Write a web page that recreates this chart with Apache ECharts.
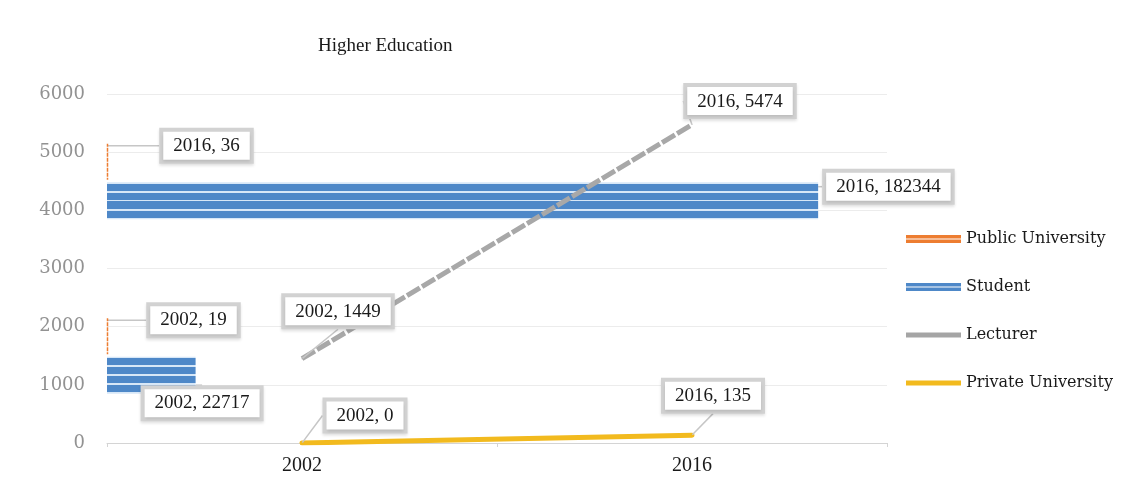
<!DOCTYPE html>
<html>
<head>
<meta charset="utf-8">
<script src="https://cdn.jsdelivr.net/npm/echarts@6/dist/echarts.min.js"></script>
<style>
  html, body { margin: 0; padding: 0; background: #ffffff; }
  #chart { width: 1138px; height: 477px; }
</style>
</head>
<body>
<div id="chart"></div>
<script>
// Years on both category axes
const years = ['2002', '2016'];

// Bar series (secondary value axis)
const publicUniversity = [19, 36];
const students = [22717, 182344];

// Line series (primary value axis)
const lecturers = [1449, 5474];
const privateUniversity = [0, 135];

// Primary axis ticks
const yTicks = { min: 0, max: 6000, interval: 1000 };
const barAxisMax = 200000;

const serif = '"Liberation Serif", "DejaVu Serif", serif';
const wideSerif = '"DejaVu Serif", "Liberation Serif", serif';

const blue = '#4e88c8';
const stripe = '#d7e7f7';
const studentFill = {
  type: 'linear', x: 0, y: 0, x2: 0, y2: 1,
  colorStops: [
    { offset: 0.00, color: stripe }, { offset: 0.04, color: stripe },
    { offset: 0.04, color: blue },   { offset: 0.23, color: blue },
    { offset: 0.23, color: stripe }, { offset: 0.28, color: stripe },
    { offset: 0.28, color: blue },   { offset: 0.47, color: blue },
    { offset: 0.47, color: stripe }, { offset: 0.52, color: stripe },
    { offset: 0.52, color: blue },   { offset: 0.72, color: blue },
    { offset: 0.72, color: stripe }, { offset: 0.77, color: stripe },
    { offset: 0.77, color: blue },   { offset: 0.96, color: blue },
    { offset: 0.96, color: stripe }, { offset: 1.00, color: stripe }
  ]
};

// Callout boxes
const callout = {
  show: true,
  fontFamily: serif,
  fontSize: 19,
  color: '#1a1a1a',
  backgroundColor: '#ffffff',
  borderColor: '#d2d2d2',
  borderWidth: 4,
  padding: [5, 10, 4, 10],
  shadowColor: 'rgba(0,0,0,0.12)',
  shadowBlur: 3,
  shadowOffsetY: 2,
  formatter: p => p.name + ', ' + p.value
};
const leader = { show: true, lineStyle: { color: '#c6c6c6', width: 1.5 } };

// Callout shifts per data index
function shiftBy(list) {
  return function (p) {
    const d = list[p.dataIndex] || [0, 0];
    return { dx: d[0], dy: d[1] };
  };
}

const chart = echarts.init(document.getElementById('chart'));
chart.setOption({
  backgroundColor: '#ffffff',
  animation: false,
  title: {
    text: 'Higher Education',
    left: 313, top: 32,
    textStyle: { fontFamily: serif, fontSize: 19, fontWeight: 'normal', color: '#1a1a1a' }
  },
  legend: {
    orient: 'vertical',
    left: 901, top: 226,
    itemWidth: 55, itemHeight: 8, itemGap: 32,
    textStyle: { fontFamily: wideSerif, fontSize: 16, color: '#1a1a1a' },
    data: [
      { name: 'Public University', icon: 'path://M0,0H55V3.5H0Z M0,4.5H55V8H0Z',
        itemStyle: { color: '#ED7D31', borderWidth: 0 } },
      { name: 'Student', icon: 'path://M0,0H55V3.5H0Z M0,4.5H55V8H0Z',
        itemStyle: { color: blue, borderWidth: 0 } },
      { name: 'Lecturer', icon: 'path://M0,1.5H55V6.5H0Z',
        itemStyle: { color: '#a5a5a5' } },
      { name: 'Private University', icon: 'path://M0,1.5H55V6.5H0Z',
        itemStyle: { color: '#F2BA1E' } }
    ]
  },
  grid: { left: 107, right: 251, top: 94, bottom: 34 },
  xAxis: [
    {
      type: 'category', data: years,
      axisLine: { lineStyle: { color: '#d4d4d4', width: 1 } },
      axisTick: { show: true, length: 4, lineStyle: { color: '#d4d4d4' } },
      axisLabel: { fontFamily: serif, fontSize: 20, color: '#1a1a1a', margin: 13 }
    },
    { type: 'value', min: 0, max: barAxisMax, show: false, position: 'top' }
  ],
  yAxis: [
    {
      type: 'value', min: yTicks.min, max: yTicks.max, interval: yTicks.interval,
      axisLine: { show: false }, axisTick: { show: false },
      splitLine: { lineStyle: { color: '#ececec' } },
      axisLabel: { fontFamily: wideSerif, fontSize: 18, color: '#929292', margin: 22,
                   formatter: v => String(v) }
    },
    { type: 'category', data: years, show: false, position: 'right' }
  ],
  series: [
    {
      name: 'Public University', type: 'bar',
      xAxisIndex: 1, yAxisIndex: 1,
      data: publicUniversity,
      barWidth: 37, barGap: '5%', barMinHeight: 1,
      itemStyle: { color: '#ED7D31', borderColor: '#ED7D31', borderWidth: 1.5, borderType: [3, 2] },
      label: Object.assign({}, callout, { position: 'right' }),
      labelLine: leader,
      labelLayout: shiftBy([[37, -16], [50, -16]])
    },
    {
      name: 'Student', type: 'bar',
      xAxisIndex: 1, yAxisIndex: 1,
      data: students,
      barWidth: 37, barGap: '5%',
      itemStyle: { color: studentFill },
      label: Object.assign({}, callout, { position: 'right' }),
      labelLine: leader,
      labelLayout: shiftBy([[-56, 28], [3, -14]])
    },
    {
      name: 'Lecturer', type: 'line',
      data: lecturers,
      color: '#a5a5a5',
      symbol: 'circle', symbolSize: 1,
      lineStyle: { color: '#a8a8a8', width: 5, type: [15, 2.5], cap: 'butt' },
      label: Object.assign({}, callout, { position: 'top' }),
      labelLine: leader,
      labelLayout: shiftBy([[36, -28], [48, -4]])
    },
    {
      name: 'Private University', type: 'line',
      data: privateUniversity,
      color: '#F2BA1E',
      symbol: 'circle', symbolSize: 1,
      lineStyle: { color: '#F2BA1E', width: 5, cap: 'round' },
      label: Object.assign({}, callout, { position: 'top' }),
      labelLine: leader,
      labelLayout: shiftBy([[63, -8], [21, -20]])
    }
  ]
});
</script>
</body>
</html>
